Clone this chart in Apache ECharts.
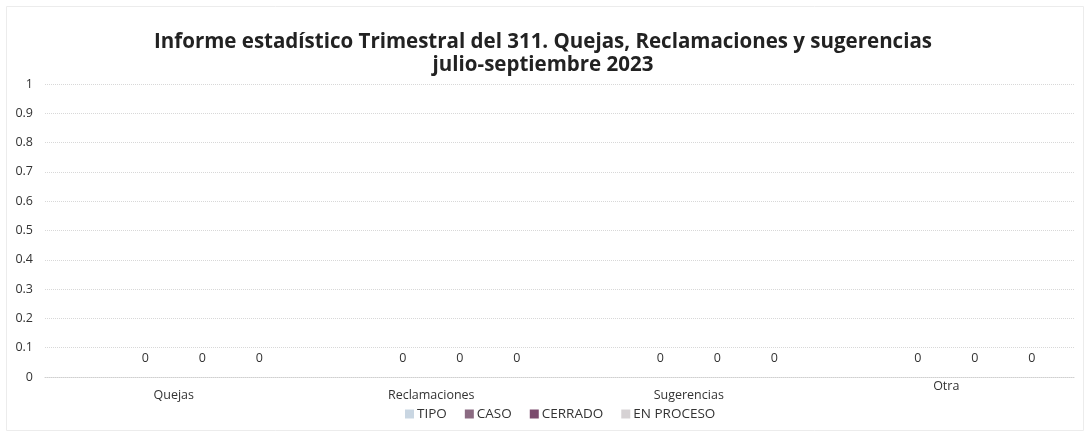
<!DOCTYPE html>
<html><head><meta charset="utf-8">
<script src="https://cdn.jsdelivr.net/npm/echarts@6/dist/echarts.min.js"></script>
<style>html,body{margin:0;padding:0;background:#fff}#c{width:1086px;height:434px}</style>
</head><body><div id="c"></div>
<script>
const categories = ['Quejas', 'Reclamaciones', 'Sugerencias', 'Otra'];
const seriesNames = ['TIPO', 'CASO', 'CERRADO', 'EN PROCESO'];
const tipo = [null, null, null, null];
const caso = [0, 0, 0, 0];
const cerrado = [0, 0, 0, 0];
const enProceso = [0, 0, 0, 0];
const yTicks = [0, 0.1, 0.2, 0.3, 0.4, 0.5, 0.6, 0.7, 0.8, 0.9, 1];
const titleLines = ['Informe estadístico Trimestral del 311. Quejas, Reclamaciones y sugerencias', 'julio-septiembre 2023'];

const colors = ['#c9d6e2', '#8b6b82', '#7b4b6d', '#d6d2d4'];
const font = '"Open Sans", "Liberation Sans", sans-serif';
const chart = echarts.init(document.getElementById('c'), null, {renderer: 'canvas'});

const labelCfg = {
  show: true, position: 'top', distance: 12,
  color: '#333', fontSize: 12.5, fontFamily: font,
  formatter: p => String(p.value)
};
const dataSets = [tipo, caso, cerrado, enProceso];

chart.setOption({
  backgroundColor: '#fff',
  animation: false,
  color: colors,
  graphic: [{
    type: 'rect', left: 4, top: 4, shape: {width: 1077, height: 424},
    style: {fill: 'none', stroke: '#ececec', lineWidth: 1}, silent: true
  }],
  title: {
    text: titleLines.join('\n'),
    left: 'center', top: 26,
    textStyle: {fontFamily: font, fontWeight: 'bold', fontSize: 20.5, color: '#222', lineHeight: 23}
  },
  legend: {
    data: seriesNames,
    left: 400, top: 402,
    itemWidth: 9, itemHeight: 9, itemGap: 18,
    icon: 'rect',
    textStyle: {fontFamily: font, fontSize: 13.5, color: '#333', padding: [0, 0, 0, -2]}
  },
  grid: {left: 45, right: 11, top: 84, bottom: 57, containLabel: false},
  xAxis: {
    type: 'category',
    data: categories,
    axisLine: {show: true, lineStyle: {color: '#d0d0d0', type: 'dotted'}},
    axisTick: {show: false},
    axisLabel: {
      margin: 3, fontFamily: font, fontSize: 12.5, color: '#333',
      formatter: v => v === 'Otra' ? v : '{d|' + v + '}',
      rich: {d: {padding: [9, 0, 0, 0], fontFamily: font, fontSize: 12.5, color: '#333'}}
    }
  },
  yAxis: {
    type: 'value', min: yTicks[0], max: yTicks[yTicks.length - 1], interval: 0.1,
    axisLine: {show: false}, axisTick: {show: false},
    axisLabel: {fontFamily: font, fontSize: 12.5, color: '#333', margin: 12,
      formatter: v => String(Math.round(v * 10) / 10)},
    splitLine: {lineStyle: {color: '#d8d8d8', type: 'dotted'}}
  },
  series: seriesNames.map((n, i) => ({
    name: n, type: 'bar',
    data: dataSets[i],
    barGap: '0%', barCategoryGap: '11.5%',
    label: Object.assign({}, labelCfg),
    itemStyle: {color: colors[i]}
  }))
});
</script></body></html>
